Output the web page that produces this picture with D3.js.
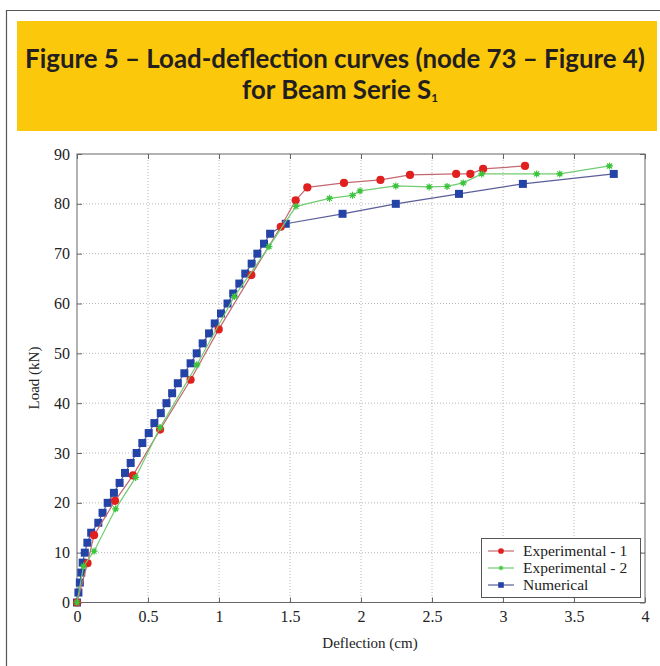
<!DOCTYPE html>
<html>
<head>
<meta charset="utf-8">
<script src="https://cdn.jsdelivr.net/npm/d3@7"></script>
<style>
  html, body { margin: 0; padding: 0; background: #fff; }
  svg { display: block; }
</style>
</head>
<body>
<svg id="chart" width="660" height="666"></svg>
<script>
// Load-deflection data (deflection in cm, load in kN)
const exp1Deflection = [0, 0.074, 0.12, 0.268, 0.394, 0.585, 0.80, 0.998, 1.228, 1.435, 1.54, 1.622, 1.88, 2.137, 2.345, 2.67, 2.77, 2.86, 3.155];
const exp1Load       = [0, 7.9, 13.5, 20.4, 25.5, 34.7, 44.7, 54.8, 65.7, 75.4, 80.7, 83.3, 84.2, 84.8, 85.8, 86.0, 86.0, 87.0, 87.6];

const exp2Deflection = [0, 0.046, 0.12, 0.272, 0.413, 0.585, 0.844, 1.108, 1.352, 1.542, 1.778, 1.94, 1.993, 2.245, 2.48, 2.606, 2.72, 2.85, 3.237, 3.40, 3.75];
const exp2Load       = [0, 7.3, 10.3, 18.8, 25.1, 35.1, 47.7, 61.4, 71.4, 79.5, 81.1, 81.7, 82.6, 83.6, 83.4, 83.5, 84.2, 86.0, 86.0, 86.0, 87.6];

const numDeflection = [0, 0.01, 0.02, 0.03, 0.04, 0.055, 0.073, 0.10, 0.15, 0.18, 0.216, 0.26, 0.30, 0.338, 0.378,
  0.42, 0.46, 0.505, 0.545, 0.59, 0.63, 0.67, 0.71, 0.756, 0.80, 0.843, 0.885, 0.93, 0.97, 1.014, 1.06, 1.10,
  1.143, 1.185, 1.23, 1.27, 1.317, 1.36, 1.47, 1.87, 2.245, 2.69, 3.14, 3.78];
const numLoad = [0, 2, 4, 6, 8, 10, 12, 14, 16, 18, 20, 22, 24, 26, 28, 30, 32, 34, 36, 38, 40, 42, 44, 46, 48,
  50, 52, 54, 56, 58, 60, 62, 64, 66, 68, 70, 72, 74, 76, 78, 80, 82, 84, 86];

const xTicks = [0, 0.5, 1, 1.5, 2, 2.5, 3, 3.5, 4];
const yTicks = [0, 10, 20, 30, 40, 50, 60, 70, 80, 90];
const seriesNames = ["Experimental - 1", "Experimental - 2", "Numerical"];

const svg = d3.select("#chart");
const serif = "'Liberation Serif', 'Times New Roman', serif";

// Outer frame and title band
svg.append("path")
  .attr("d", "M6.5,666 V10.5 H660")
  .attr("fill", "none").attr("stroke", "#555").attr("stroke-width", 1.2);
svg.append("rect").attr("x", 17).attr("y", 21).attr("width", 640).attr("height", 110).attr("fill", "#fcc80c");

// Title: the font size is chosen so the first line spans the band width
const titleFont = "Lato, 'Open Sans', sans-serif";
const t1 = svg.append("text")
  .attr("x", 335).attr("y", 68).attr("text-anchor", "middle")
  .attr("font-family", titleFont).attr("font-weight", "bold").attr("font-size", 24)
  .attr("fill", "#231f20")
  .text("Figure 5 \u2013 Load-deflection curves (node 73 \u2013 Figure 4)");
const w1 = t1.node().getComputedTextLength();
const titleSize = Math.min(26, 24 * 620 / w1);
t1.attr("font-size", titleSize);
const t2 = svg.append("text")
  .attr("x", 340).attr("y", 99).attr("text-anchor", "middle")
  .attr("font-family", titleFont).attr("font-weight", "bold").attr("font-size", titleSize)
  .attr("fill", "#231f20");
t2.append("tspan").text("for Beam Serie S");
t2.append("tspan").attr("font-size", titleSize * 0.45).attr("dy", 3).text("1");

// Plot area
const pLeft = 77, pRight = 645, pTop = 154, pBottom = 602.5;
const x = d3.scaleLinear().domain([0, 4]).range([pLeft, pRight]);
const y = d3.scaleLinear().domain([0, 90]).range([pBottom, pTop]);

const g = svg.append("g");

// Dotted grid
g.append("g").selectAll("line").data(xTicks.slice(1, -1)).join("line")
  .attr("x1", d => x(d)).attr("x2", d => x(d)).attr("y1", pTop).attr("y2", pBottom)
  .attr("stroke", "#b8b8b8").attr("stroke-width", 1).attr("stroke-dasharray", "1,2");
g.append("g").selectAll("line").data(yTicks.slice(1, -1)).join("line")
  .attr("y1", d => y(d)).attr("y2", d => y(d)).attr("x1", pLeft).attr("x2", pRight)
  .attr("stroke", "#b8b8b8").attr("stroke-width", 1).attr("stroke-dasharray", "1,2");

// Axes with inward ticks on all four sides
function styleAxis(sel) {
  sel.attr("font-family", serif).attr("font-size", 16);
  sel.select(".domain").remove();
  sel.selectAll(".tick line").attr("stroke", "#666");
  sel.selectAll(".tick text").attr("fill", "#222");
}
g.append("g").attr("transform", `translate(0,${pBottom})`)
  .call(d3.axisBottom(x).tickValues(xTicks).tickFormat(d3.format("~g")).tickSizeInner(-5).tickPadding(8))
  .call(styleAxis);
g.append("g").attr("transform", `translate(0,${pTop})`)
  .call(d3.axisTop(x).tickValues(xTicks).tickFormat("").tickSizeInner(-5))
  .call(styleAxis);
g.append("g").attr("transform", `translate(${pLeft},0)`)
  .call(d3.axisLeft(y).tickValues(yTicks).tickSizeInner(-5).tickPadding(7))
  .call(styleAxis);
g.append("g").attr("transform", `translate(${pRight},0)`)
  .call(d3.axisRight(y).tickValues(yTicks).tickFormat("").tickSizeInner(-5))
  .call(styleAxis);

g.append("rect").attr("x", pLeft).attr("y", pTop).attr("width", pRight - pLeft).attr("height", pBottom - pTop)
  .attr("fill", "none").attr("stroke", "#666").attr("stroke-width", 1);

// Axis titles
svg.append("text").attr("x", 370).attr("y", 648).attr("text-anchor", "middle")
  .attr("font-family", serif).attr("font-size", 15).attr("fill", "#222").text("Deflection (cm)");
svg.append("text").attr("transform", "translate(39,378) rotate(-90)").attr("text-anchor", "middle")
  .attr("font-family", serif).attr("font-size", 15).attr("fill", "#222").text("Load (kN)");

// Series
const series = [
  { name: seriesNames[0], xs: exp1Deflection, ys: exp1Load, line: "#c46870", mark: "#e0201f", shape: "circle" },
  { name: seriesNames[1], xs: exp2Deflection, ys: exp2Load, line: "#72cc72", mark: "#3cc43c", shape: "star" },
  { name: seriesNames[2], xs: numDeflection, ys: numLoad, line: "#5a5e98", mark: "#2443a6", shape: "square" }
];

const line = d3.line().x(d => x(d[0])).y(d => y(d[1]));

function drawMarker(sel, s) {
  if (s.shape === "circle") {
    sel.append("circle").attr("r", 4.1).attr("fill", s.mark);
  } else if (s.shape === "square") {
    sel.append("rect").attr("x", -4).attr("y", -4).attr("width", 8).attr("height", 8).attr("fill", s.mark);
  } else {
    sel.append("path").attr("d", "M-3.5,0H3.5M0,-3.5V3.5M-2.5,-2.5L2.5,2.5M-2.5,2.5L2.5,-2.5")
      .attr("stroke", s.mark).attr("stroke-width", 1.2);
    sel.append("circle").attr("r", 2).attr("fill", s.mark);
  }
}

// Numerical first, then the two experimental curves over it
const order = [2, 0, 1];
order.forEach(i => {
  const s = series[i];
  const pts = s.xs.map((d, k) => [d, s.ys[k]]);
  g.append("path").datum(pts).attr("d", line)
    .attr("fill", "none").attr("stroke", s.line).attr("stroke-width", 1.2);
  g.append("g").selectAll("g").data(pts).join("g")
    .attr("transform", d => `translate(${x(d[0])},${y(d[1])})`)
    .each(function () { drawMarker(d3.select(this), s); });
});

// Legend
const lg = svg.append("g").attr("transform", "translate(481,538)");
lg.append("rect").attr("x", 0.5).attr("y", 0.5).attr("width", 159).attr("height", 59)
  .attr("fill", "#fff").attr("stroke", "#555").attr("stroke-width", 1);
series.forEach((s, i) => {
  const row = lg.append("g").attr("transform", `translate(0,${13 + i * 17})`);
  row.append("line").attr("x1", 7).attr("x2", 33).attr("stroke", s.line).attr("stroke-width", 1.2);
  const m = row.append("g").attr("transform", "translate(20,0) scale(0.7)");
  drawMarker(m, s);
  row.append("text").attr("x", 42).attr("y", 5).attr("font-family", serif).attr("font-size", 15.5)
    .attr("fill", "#222").text(s.name);
});
</script>
</body>
</html>
